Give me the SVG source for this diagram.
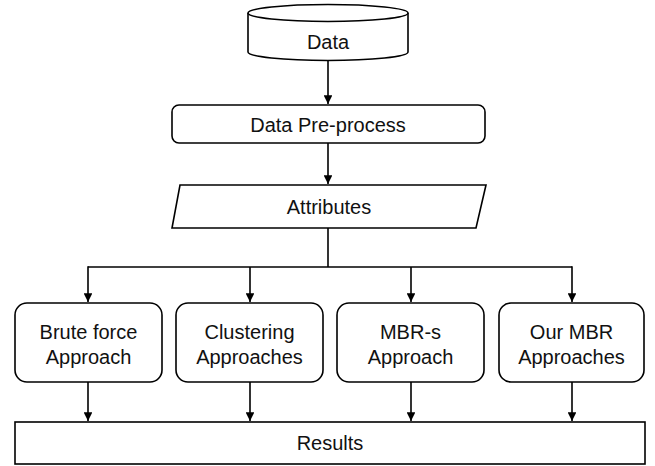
<svg xmlns="http://www.w3.org/2000/svg" width="655" height="466" viewBox="0 0 655 466">
  <style>
    .shape { fill: #ffffff; stroke: #000000; stroke-width: 1.6; }
    .link { fill: none; stroke: #000000; stroke-width: 1.6; }
    .label { font-family: "Liberation Sans", Arial, sans-serif; font-size: 20px; fill: #111111; text-anchor: middle; }
  </style>
  <defs>
    <marker id="arrow" viewBox="0 0 10 10" refX="10" refY="5" markerWidth="5.8" markerHeight="5.5" orient="auto" markerUnits="strokeWidth">
      <path d="M0,0 L10,5 L0,10 Z" fill="#000000"/>
    </marker>
  </defs>
  <rect width="655" height="466" fill="#ffffff"/>

  <g id="connectors">
    <line class="link" x1="328" y1="61" x2="328" y2="104" marker-end="url(#arrow)"/>
    <line class="link" x1="328" y1="143" x2="328" y2="184" marker-end="url(#arrow)"/>
    <line class="link" x1="328" y1="228" x2="328" y2="267"/>
    <line class="link" x1="88" y1="267" x2="572" y2="267"/>
    <line class="link" x1="88" y1="266.2" x2="88" y2="302" marker-end="url(#arrow)"/>
    <line class="link" x1="250" y1="267" x2="250" y2="302" marker-end="url(#arrow)"/>
    <line class="link" x1="411" y1="267" x2="411" y2="302" marker-end="url(#arrow)"/>
    <line class="link" x1="572" y1="266.2" x2="572" y2="302" marker-end="url(#arrow)"/>
    <line class="link" x1="88" y1="382" x2="88" y2="421" marker-end="url(#arrow)"/>
    <line class="link" x1="250" y1="382" x2="250" y2="421" marker-end="url(#arrow)"/>
    <line class="link" x1="411" y1="382" x2="411" y2="421" marker-end="url(#arrow)"/>
    <line class="link" x1="572" y1="382" x2="572" y2="421" marker-end="url(#arrow)"/>
  </g>

  <g id="data">
    <path class="shape" d="M248,13 L248,52 A80,8.5 0 0 0 408,52 L408,13"/>
    <ellipse class="shape" cx="328" cy="13" rx="80" ry="8.5"/>
    <text class="label" x="328" y="48.5">Data</text>
  </g>

  <g id="preprocess">
    <rect class="shape" x="172" y="105" width="313" height="38" rx="7"/>
    <text class="label" x="328" y="131.5">Data Pre-process</text>
  </g>

  <g id="attributes">
    <polygon class="shape" points="180,185 486,185 476,228 172,228"/>
    <text class="label" x="329" y="213.5">Attributes</text>
  </g>

  <g id="brute-force">
    <rect class="shape" x="15" y="303" width="147" height="79" rx="12"/>
    <text class="label" x="88.5" y="338.5">Brute force</text>
    <text class="label" x="88.5" y="363.5">Approach</text>
  </g>

  <g id="clustering">
    <rect class="shape" x="176" y="303" width="147" height="79" rx="12"/>
    <text class="label" x="249.5" y="338.5">Clustering</text>
    <text class="label" x="249.5" y="363.5">Approaches</text>
  </g>

  <g id="mbr-s">
    <rect class="shape" x="337" y="303" width="147" height="79" rx="12"/>
    <text class="label" x="410.5" y="338.5">MBR-s</text>
    <text class="label" x="410.5" y="363.5">Approach</text>
  </g>

  <g id="our-mbr">
    <rect class="shape" x="499" y="303" width="145" height="79" rx="12"/>
    <text class="label" x="571.5" y="338.5">Our MBR</text>
    <text class="label" x="571.5" y="363.5">Approaches</text>
  </g>

  <g id="results">
    <rect class="shape" x="15" y="422" width="630" height="42"/>
    <text class="label" x="330" y="449.5">Results</text>
  </g>
</svg>
